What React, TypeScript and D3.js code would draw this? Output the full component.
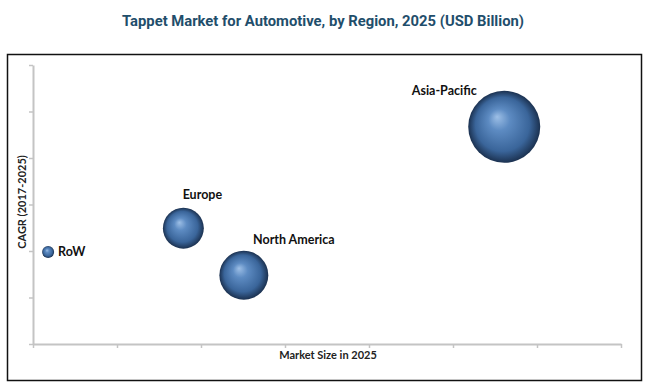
// App.tsx
// bubble chart: tappet market by region, drawn with d3 in a ref
import * as d3 from 'd3';
import React, { useRef, useEffect } from 'react';

const regions = ["RoW", "Europe", "North America", "Asia-Pacific"];
const marketSize = [0.18, 1.79, 2.51, 5.61]; // x position (axis has no numbers)
const cagr = [1.98, 2.49, 1.48, 4.67];
const bubbleSize = [0.36, 4.2, 6.0, 13.0];
const xTicks = [0, 1, 2, 3, 4, 5, 6, 7];
const yTicks = [0, 1, 2, 3, 4, 5, 6];

const W = 650;
const H = 387;

function App() {
    const ref = useRef<SVGSVGElement>(null);

    useEffect(() => {
        const svg = d3.select(ref.current);
        svg.selectAll("*").remove();

        const x = d3.scaleLinear().domain([0, 7]).range([33, 621]);
        const y = d3.scaleLinear().domain([0, 6]).range([344, 65]);
        const r = d3.scaleSqrt().domain([0, 13]).range([0, 36]);

        // sphere look
        const defs = svg.append("defs");
        const grad = defs.append("radialGradient")
            .attr("id", "ball")
            .attr("cx", "50%").attr("cy", "50%").attr("r", "50%")
            .attr("fx", "40%").attr("fy", "36%");
        grad.append("stop").attr("offset", "0%").attr("stop-color", "#9dbfe6");
        grad.append("stop").attr("offset", "30%").attr("stop-color", "#5d8bc2");
        grad.append("stop").attr("offset", "75%").attr("stop-color", "#3a659a");
        grad.append("stop").attr("offset", "100%").attr("stop-color", "#1b3150");

        svg.append("text")
            .attr("x", 323).attr("y", 26)
            .attr("text-anchor", "middle")
            .attr("font-family", "Roboto, sans-serif")
            .attr("font-weight", "bold")
            .attr("font-size", 15)
            .attr("textLength", 402)
            .attr("lengthAdjust", "spacingAndGlyphs")
            .attr("fill", "#1f4e6b")
            .text("Tappet Market for Automotive,  by Region, 2025 (USD Billion)");

        svg.append("rect")
            .attr("x", 7.5).attr("y", 54.5)
            .attr("width", 634).attr("height", 326)
            .attr("fill", "none")
            .attr("stroke", "#111")
            .attr("stroke-width", 1.5);

        const gx = svg.append("g").attr("transform", "translate(0,344)")
            .call(d3.axisBottom(x).tickValues(xTicks).tickSize(4).tickFormat(() => "").tickSizeOuter(0));
        const gy = svg.append("g").attr("transform", "translate(33,0)")
            .call(d3.axisLeft(y).tickValues(yTicks).tickSize(4).tickFormat(() => "").tickSizeOuter(0));
        [gx, gy].forEach(g => {
            g.select(".domain").attr("stroke", "#c4c4c4").attr("stroke-width", 2);
            g.selectAll(".tick line").attr("stroke", "#c4c4c4").attr("stroke-width", 1.5);
        });

        svg.append("text")
            .attr("x", 328).attr("y", 359)
            .attr("text-anchor", "middle")
            .attr("font-family", "Lato, sans-serif")
            .attr("font-weight", "bold")
            .attr("font-size", 11)
            .attr("fill", "#222")
            .text("Market Size in 2025");

        svg.append("text")
            .attr("transform", "translate(26,202) rotate(-90)")
            .attr("text-anchor", "middle")
            .attr("font-family", "Lato, sans-serif")
            .attr("font-weight", "bold")
            .attr("font-size", 11)
            .attr("fill", "#222")
            .text("CAGR (2017-2025)");

        const pts = regions.map((name, i) => ({ name, mx: marketSize[i], cy: cagr[i], s: bubbleSize[i] }));

        svg.selectAll("circle.bubble")
            .data(pts)
            .enter()
            .append("circle")
            .attr("class", "bubble")
            .attr("cx", d => x(d.mx))
            .attr("cy", d => y(d.cy))
            .attr("r", d => r(d.s))
            .attr("fill", "url(#ball)");

        // label offsets relative to the bubble (RoW sits to the right, others above)
        const labelDx = [10, 19, 50, -60];
        const labelDy = [4, -29, -31, -32];
        svg.selectAll("text.lbl")
            .data(pts)
            .enter()
            .append("text")
            .attr("class", "lbl")
            .attr("x", (d, i) => x(d.mx) + labelDx[i])
            .attr("y", (d, i) => y(d.cy) + labelDy[i])
            .attr("text-anchor", (d, i) => i == 0 ? "start" : "middle")
            .attr("font-family", "Lato, sans-serif")
            .attr("font-weight", "bold")
            .attr("font-size", 12.5)
            .attr("fill", "#111")
            .text(d => d.name);
    }, []);

    return (
        <svg ref={ref} width={W} height={H} style={{ position: "absolute", left: 0, top: 0, background: "#fff" }}>
        </svg>
    );
}

export default App;
